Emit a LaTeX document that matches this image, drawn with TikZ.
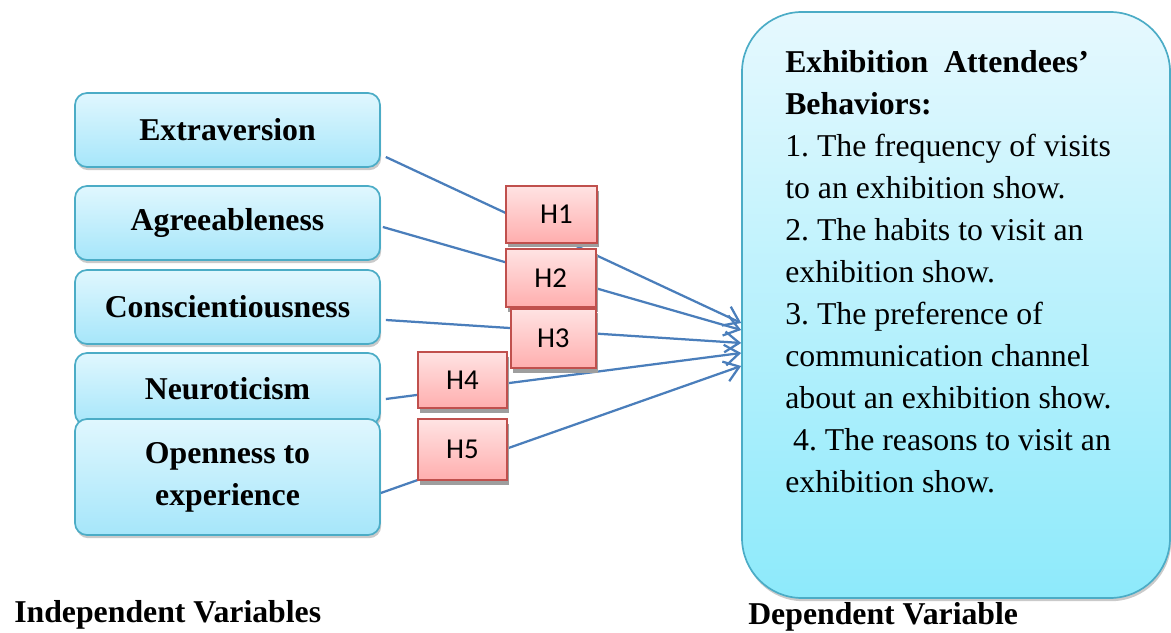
\documentclass[tikz,border=0pt]{standalone}
\usepackage{fontspec}
\setmainfont{Liberation Serif}
\newfontfamily\calibri{Carlito}
\usetikzlibrary{arrows.meta,shadows}
\definecolor{boxline}{HTML}{4BACC6}
\definecolor{boxtop}{HTML}{E0F7FE}
\definecolor{boxbot}{HTML}{A6E6FA}
\definecolor{hline}{HTML}{C0504D}
\definecolor{htop}{HTML}{FFE3E3}
\definecolor{hbot}{HTML}{FFAEAE}
\definecolor{linkblue}{HTML}{4A7EBB}
\frenchspacing

\begin{document}
\begin{tikzpicture}[
  var/.style={draw=boxline, line width=1.2pt, rounded corners=0.3cm, top color=boxtop, bottom color=boxbot,
    minimum width=7.625cm, minimum height=1.85cm, align=center, font=\fontsize{22.6}{29.9}\selectfont\bfseries,
    drop shadow={shadow xshift=0.03cm, shadow yshift=-0.08cm, opacity=0.35, fill=black!60}},
  hyp/.style={draw=hline, line width=1.2pt, top color=htop, bottom color=hbot, inner sep=0pt,
    font=\calibri\fontsize{20.5}{24}\selectfont,
    drop shadow={shadow xshift=0.05cm, shadow yshift=-0.12cm, opacity=1, fill=black!38}},
  arr/.style={-{Straight Barb[length=0.36cm,width=0.52cm]}, draw=linkblue, line width=1.6pt},
  lbl/.style={font=\fontsize{22.6}{29.9}\selectfont\bfseries, inner sep=0pt, anchor=base west}
]
\useasboundingbox (0,0) rectangle (29.275,15.825);

% independent variables
\node[var] (ext) at (5.6875,12.575) {Extraversion};
\node[var] (agr) at (5.6875,10.25) {Agreeableness};
\node[var] (con) at (5.6875,8.15) {Conscientiousness};
\node[var, minimum height=1.8cm] (neu) at (5.6875,6.1) {Neuroticism};
\node[var, minimum height=2.9cm] (ope) at (5.6875,3.9) {Openness to\\experience};

% dependent variable
\node[var, rounded corners=1.5cm, minimum width=10.7cm, minimum height=14.65cm,
  top color=boxtop!80!white, bottom color=boxbot!85!cyan] (dv) at (23.9,8.2) {};
\node[anchor=north west, inner sep=0pt, align=left, font=\fontsize{22.6}{29.9}\selectfont] (dvtext) at (19.625,14.575)
  {\textbf{Exhibition\hspace{0.5em}Attendees’}\\ \textbf{Behaviors:}\\
   1. The frequency of visits\\ to an exhibition show.\\
   2. The habits to visit an\\ exhibition show.\\
   3. The preference of\\ communication channel\\
   about an exhibition show.\\ \hspace{0.25em}4. The reasons to visit an\\ exhibition show.};

% paths
\draw[arr] ([shift={(0.125,-0.675)}]ext.east) -- ([yshift=-0.45cm]dv.west);
\draw[arr] ([shift={(0.05,-0.1)}]agr.east) -- ([yshift=-0.625cm]dv.west);
\draw[arr] ([shift={(0.125,-0.325)}]con.east) -- ([yshift=-0.95cm]dv.west);
\draw[arr] ([shift={(0.125,-0.25)}]neu.east) -- ([yshift=-1.2cm]dv.west);
\draw[arr] ([shift={(0,-0.4)}]ope.east) -- ([yshift=-1.525cm]dv.west);

% hypotheses
\node[hyp, minimum width=2.29cm, minimum height=1.42cm] (h1) at (13.7875,10.4675) {\hspace{0.25cm}H1};
\node[hyp, minimum width=2.25cm, minimum height=1.45cm] (h2) at (13.7675,8.8675) {H2};
\node[hyp, minimum width=2.12cm, minimum height=1.49cm] (h3) at (13.8325,7.3625) {H3};
\node[hyp, minimum width=2.21cm, minimum height=1.40cm] (h4) at (11.5625,6.3175) {H4\hspace{0.3cm}};
\node[hyp, minimum width=2.21cm, minimum height=1.52cm] (h5) at (11.5625,4.5825) {H5\hspace{0.3cm}};

% captions
\node[lbl] (indep) at (0.35,0.26) {Independent Variables};
\node[lbl] (dep) at (18.7,0.2) {Dependent Variable};
\end{tikzpicture}
\end{document}
